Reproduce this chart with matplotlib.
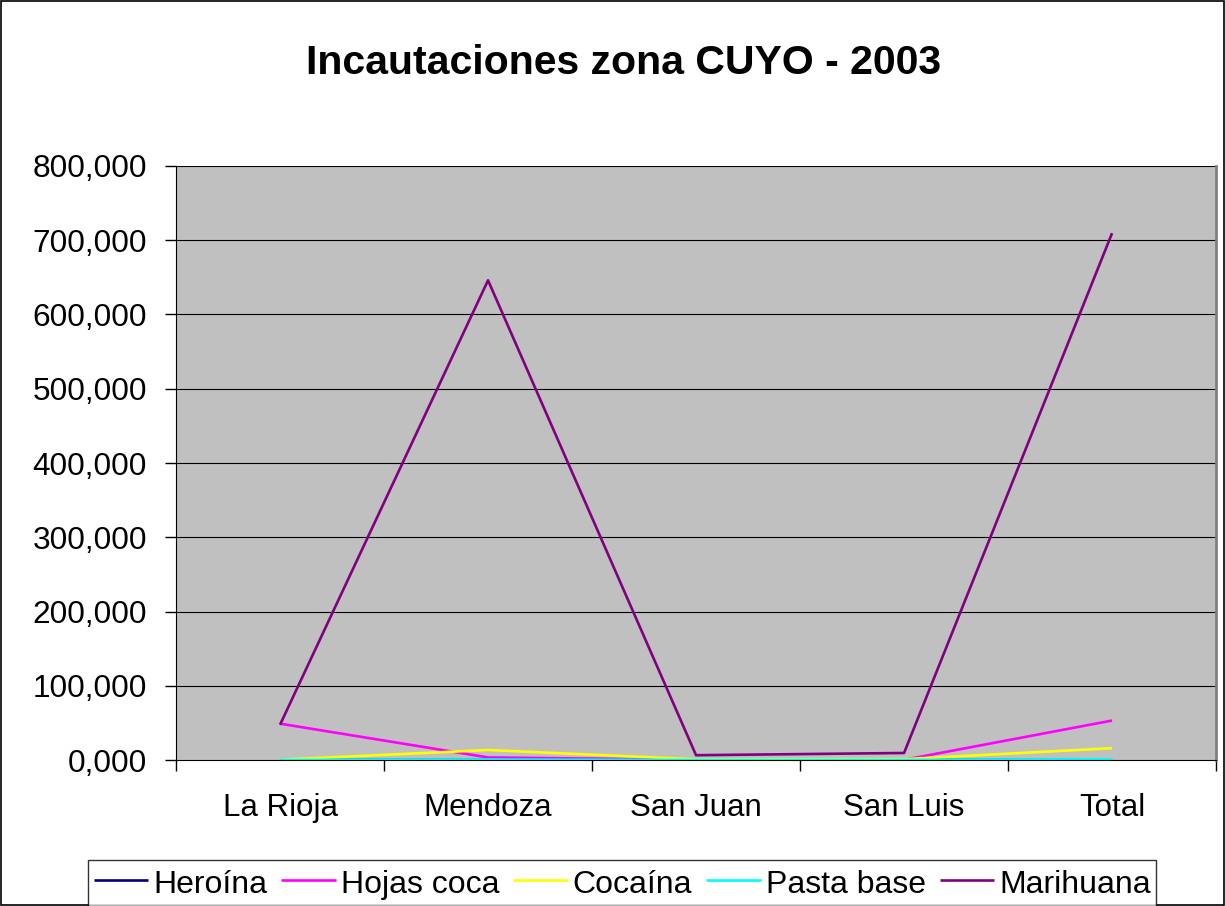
import matplotlib.pyplot as plt
from matplotlib.patches import Rectangle
from matplotlib.ticker import FixedLocator

plt.rcParams['font.family'] = ['Liberation Sans', 'DejaVu Sans']

# Data (kg)
provincias = ["La Rioja", "Mendoza", "San Juan", "San Luis", "Total"]
heroina = [0, 50, 0, 0, 50]
hojas_coca = [49000, 3500, 400, 300, 53200]
cocaina = [400, 13500, 900, 1200, 16000]
pasta_base = [100, 600, 100, 200, 1000]
marihuana = [47500, 646000, 6500, 9500, 709500]

series = [("Heroína", heroina, "#000080"),
          ("Hojas coca", hojas_coca, "#FF00FF"),
          ("Cocaína", cocaina, "#FFFF00"),
          ("Pasta base", pasta_base, "#00FFFF"),
          ("Marihuana", marihuana, "#800080")]

y_ticks = [0, 100000, 200000, 300000, 400000, 500000, 600000, 700000, 800000]
y_labels = ["0,000", "100,000", "200,000", "300,000", "400,000",
            "500,000", "600,000", "700,000", "800,000"]

fig = plt.figure(figsize=(12.25, 9.06), dpi=100)
ax = fig.add_axes([0.1437, 0.1611, 0.8490, 0.6557])
ax.set_facecolor("#C0C0C0")

x = [i + 0.5 for i in range(len(provincias))]
for name, vals, col in series:
    ax.plot(x, vals, color=col, lw=1.9, label=name, solid_capstyle="butt")

ax.set_xlim(0, len(provincias))
ax.set_ylim(0, 800000)

# gridlines
for yv in y_ticks[1:]:
    ax.axhline(yv, color="black", lw=0.8, zorder=1)

ax.set_yticks(y_ticks)
ax.set_yticklabels(y_labels, fontsize=22.8)
ax.set_xticks(x)
ax.set_xticklabels(provincias, fontsize=22.5)
ax.xaxis.set_minor_locator(FixedLocator(range(len(provincias) + 1)))
ax.tick_params(axis="x", which="major", length=0, pad=24)
ax.tick_params(axis="x", which="minor", length=8, width=1, direction="out")
ax.tick_params(axis="y", length=8, width=1, direction="out", pad=13)

ax.spines["left"].set_color("black")
ax.spines["bottom"].set_color("black")
ax.spines["top"].set_visible(False)
ax.spines["right"].set_color("#808080")
ax.spines["right"].set_linewidth(2)

fig.text(0.509, 0.931, "Incautaciones zona CUYO - 2003", fontsize=29.5,
         fontweight="bold", ha="center", va="center")

leg = fig.legend(loc="lower center", bbox_to_anchor=(0.508, -0.002), ncol=5,
                 fontsize=23, frameon=True, fancybox=False, edgecolor="black",
                 handlelength=1.7, handletextpad=0.15, columnspacing=0.45,
                 handleheight=1.25, borderpad=0.18, borderaxespad=0.05)
leg.get_frame().set_linewidth(1)

# outer border of the chart
fig.patches.append(Rectangle((0.001, 0.001), 0.998, 0.998, transform=fig.transFigure,
                             fill=False, edgecolor="black", lw=1.2))

fig.savefig("out.png", dpi=100)
